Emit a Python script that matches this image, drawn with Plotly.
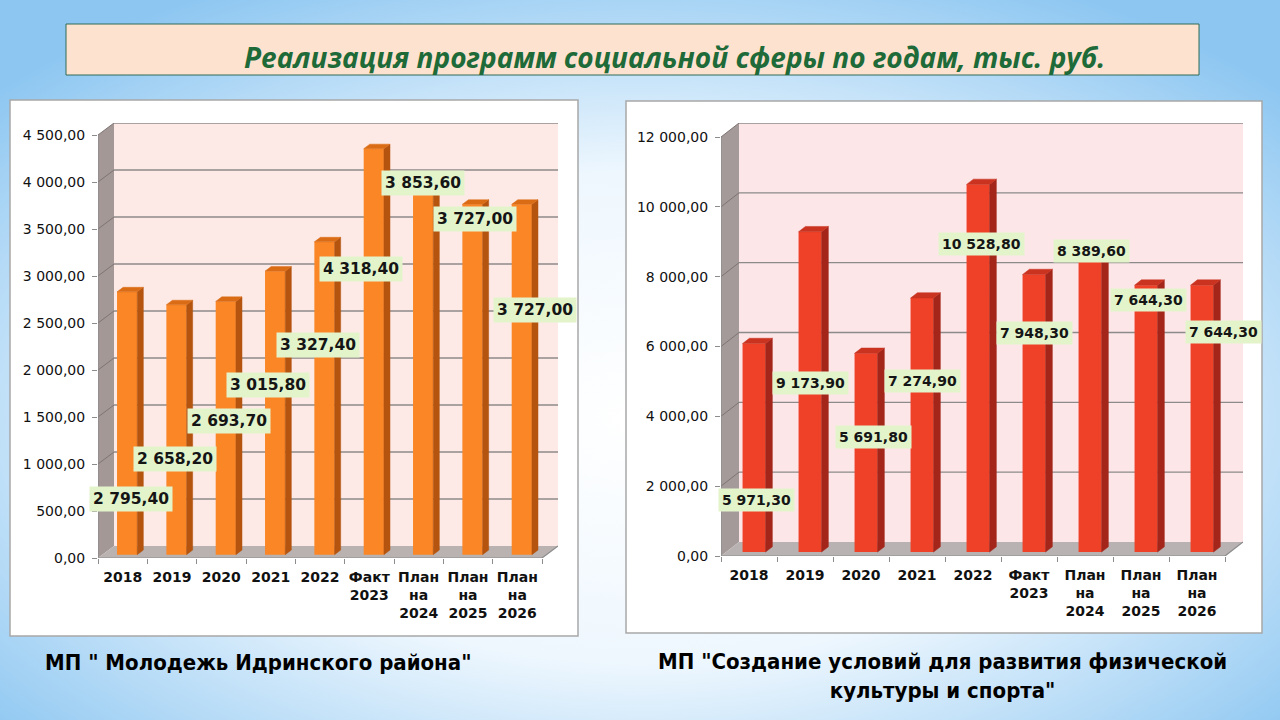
import base64
import plotly.graph_objects as go

# ---------------- data ----------------
CATEGORIES = ["2018", "2019", "2020", "2021", "2022", "Факт<br>2023",
              "План<br>на<br>2024", "План<br>на<br>2025", "План<br>на<br>2026"]
YOUTH_VALUES = [2795.40, 2658.20, 2693.70, 3015.80, 3327.40, 4318.40, 3853.60, 3727.00, 3727.00]
SPORT_VALUES = [5971.30, 9173.90, 5691.80, 7274.90, 10528.80, 7948.30, 8389.60, 7644.30, 7644.30]
YOUTH_TICKS = [0, 500, 1000, 1500, 2000, 2500, 3000, 3500, 4000, 4500]
SPORT_TICKS = [0, 2000, 4000, 6000, 8000, 10000, 12000]

TITLE = "Реализация программ социальной сферы по годам, тыс. руб."
LEFT_CAPTION = 'МП " Молодежь Идринского района"'
RIGHT_CAPTION = 'МП "Создание условий для развития физической<br>культуры и спорта"'

# ---------------- layout (positions of the data-label boxes, in axis units) ----------------
YOUTH_LABEL_X = [0.17, 1.06, 2.16, 2.95, 3.96, 4.83, 6.09, 7.14, 8.36]
YOUTH_LABEL_Y = [628, 1053, 1457, 1840, 2266, 3074, 3989, 3606, 2638]
SPORT_LABEL_X = [0.14, 1.09, 2.23, 3.09, 4.16, 5.09, 6.11, 7.14, 8.48]
SPORT_LABEL_Y = [1604, 4954, 3408, 5011, 8935, 6386, 8734, 7331, 6415]

W_PX, H_PX = 1280, 720


def fmt(v):
    return f"{v:,.2f}".replace(",", " ").replace(".", ",")


def px_x(p):
    return p / W_PX


def px_y(p):
    return 1 - p / H_PX


fig = go.Figure()
shapes = []
annotations = []

charts = [
    dict(xa="x", ya="y", xkey="xaxis", ykey="yaxis", values=YOUTH_VALUES, ticks=YOUTH_TICKS,
         lx=YOUTH_LABEL_X, ly=YOUTH_LABEL_Y, label_size=15.5,
         left=98, right=558, top=123, bottom=558, dpx=16, dpy=12,
         wall="#FDEAE6", side="#A39895", floor="#B9B2B0",
         front="#FA8626", bside="#B4540F", btop="#DB6C16"),
    dict(xa="x2", ya="y2", xkey="xaxis2", ykey="yaxis2", values=SPORT_VALUES, ticks=SPORT_TICKS,
         lx=SPORT_LABEL_X, ly=SPORT_LABEL_Y, label_size=14,
         left=721, right=1243, top=123, bottom=556, dpx=18, dpy=14,
         wall="#FCE6E8", side="#A49A9A", floor="#B9B2B2",
         front="#EF4127", bside="#A4261A", btop="#C9331F"),
]

F0, F1 = 0.28, 0.66   # depth fractions of bar front / back
BW = 0.41             # bar width in category units
n = len(CATEGORIES)

for c in charts:
    xa, ya = c["xa"], c["ya"]
    ymax = c["ticks"][-1]
    cat_w = (c["right"] - c["left"] - c["dpx"]) / n
    DX = c["dpx"] / cat_w
    scale = (c["bottom"] - c["top"] - c["dpy"]) / ymax
    DY = c["dpy"] / scale
    x_lo, x_hi = -0.5, n - 0.5

    # walls and floor
    shapes.append(dict(type="rect", xref=xa, yref=ya, x0=x_lo + DX, x1=x_hi + DX, y0=DY, y1=ymax + DY,
                       fillcolor=c["wall"], line=dict(width=0), layer="below"))
    shapes.append(dict(type="path", xref=xa, yref=ya,
                       path=f"M {x_lo},0 L {x_lo+DX},{DY} L {x_lo+DX},{ymax+DY} L {x_lo},{ymax} Z",
                       fillcolor=c["side"], line=dict(width=0), layer="below"))
    shapes.append(dict(type="path", xref=xa, yref=ya,
                       path=f"M {x_lo},0 L {x_hi},0 L {x_hi+DX},{DY} L {x_lo+DX},{DY} Z",
                       fillcolor=c["floor"], line=dict(width=0), layer="below"))
    for t in c["ticks"][1:]:
        shapes.append(dict(type="line", xref=xa, yref=ya, x0=x_lo + DX, x1=x_hi + DX, y0=t + DY, y1=t + DY,
                           line=dict(color="#8C8A8A", width=1.3), layer="below"))
        shapes.append(dict(type="line", xref=xa, yref=ya, x0=x_lo, x1=x_lo + DX, y0=t, y1=t + DY,
                           line=dict(color="#7E7472", width=1), layer="below"))
    # axis lines
    shapes.append(dict(type="line", xref=xa, yref=ya, x0=x_lo, x1=x_hi, y0=0, y1=0,
                       line=dict(color="#8C8C8C", width=1.2), layer="below"))
    shapes.append(dict(type="line", xref=xa, yref=ya, x0=x_lo, x1=x_lo, y0=0, y1=ymax,
                       line=dict(color="#8C8C8C", width=1.2), layer="below"))
    shapes.append(dict(type="line", xref=xa, yref=ya, x0=x_hi, x1=x_hi + DX, y0=0, y1=DY,
                       line=dict(color="#8C8C8C", width=1.2), layer="below"))

    # bars: front faces
    fig.add_trace(go.Bar(x=[i + F0 * DX for i in range(n)], y=c["values"], base=F0 * DY, width=BW,
                         marker=dict(color=c["front"], line=dict(width=0)),
                         xaxis=xa, yaxis=ya, showlegend=False, hoverinfo="skip"))
    # side and top faces
    sx, sy, tx, ty = [], [], [], []
    ddx = (F1 - F0) * DX
    for i, v in enumerate(c["values"]):
        xl = i - BW / 2 + F0 * DX
        xr = i + BW / 2 + F0 * DX
        sx += [xr, xr + ddx, xr + ddx, xr, xr, None]
        sy += [F0 * DY, F1 * DY, v + F1 * DY, v + F0 * DY, F0 * DY, None]
        tx += [xl, xr, xr + ddx, xl + ddx, xl, None]
        ty += [v + F0 * DY, v + F0 * DY, v + F1 * DY, v + F1 * DY, v + F0 * DY, None]
    fig.add_trace(go.Scatter(x=sx, y=sy, fill="toself", fillcolor=c["bside"], mode="lines",
                             line=dict(width=0.5, color=c["bside"]), xaxis=xa, yaxis=ya,
                             showlegend=False, hoverinfo="skip"))
    fig.add_trace(go.Scatter(x=tx, y=ty, fill="toself", fillcolor=c["btop"], mode="lines",
                             line=dict(width=0.5, color=c["btop"]), xaxis=xa, yaxis=ya,
                             showlegend=False, hoverinfo="skip"))

    # data labels
    for i, v in enumerate(c["values"]):
        annotations.append(dict(xref=xa, yref=ya, x=c["lx"][i], y=c["ly"][i], text=fmt(v),
                                xanchor="center", yanchor="middle",
                                showarrow=False, bgcolor="#E3F4CB", borderpad=3,
                                font=dict(family="DejaVu Sans", size=c["label_size"], color="#151515",
                                          weight="bold")))

    fig.update_layout(**{
        c["xkey"]: dict(domain=[px_x(c["left"]), px_x(c["right"])], range=[x_lo, x_hi + DX],
                        tickmode="array", tickvals=list(range(n)), ticktext=CATEGORIES,
                        tickfont=dict(family="DejaVu Sans", size=14, color="#111111", weight="bold"),
                        ticks="", showgrid=False, zeroline=False, showline=False,
                        ticklabelstandoff=9, anchor=ya, fixedrange=True, automargin=False,
                        minor=dict(tickmode="array", tickvals=[x_lo + k for k in range(n + 1)],
                                   ticks="outside", ticklen=5, tickcolor="#8C8C8C", showgrid=False)),
        c["ykey"]: dict(domain=[px_y(c["bottom"]), px_y(c["top"])], range=[0, ymax + DY],
                        tickmode="array", tickvals=c["ticks"], ticktext=[fmt(t) for t in c["ticks"]],
                        tickfont=dict(family="DejaVu Sans", size=14, color="#111111"),
                        ticks="outside", ticklen=5, tickcolor="#8C8C8C",
                        showgrid=False, zeroline=False, showline=False,
                        ticklabelstandoff=4, anchor=xa, fixedrange=True, automargin=False),
    })

# panels and title box (paper coordinates)
panel_shapes = [
    dict(type="rect", xref="paper", yref="paper", x0=px_x(10), x1=px_x(578), y0=px_y(636), y1=px_y(100),
         fillcolor="white", line=dict(color="#A8A8A8", width=1.5), layer="below"),
    dict(type="rect", xref="paper", yref="paper", x0=px_x(626), x1=px_x(1262), y0=px_y(633), y1=px_y(101),
         fillcolor="white", line=dict(color="#A8A8A8", width=1.5), layer="below"),
    dict(type="rect", xref="paper", yref="paper", x0=px_x(66), x1=px_x(1199), y0=px_y(75), y1=px_y(24),
         fillcolor="#FDE3CF", line=dict(color="#2E6B57", width=1), layer="below"),
]

cap_font = dict(family="Liberation Sans Narrow, Arial Narrow, DejaVu Sans Condensed", size=22,
                color="#000000", weight="bold")
annotations += [
    dict(xref="paper", yref="paper", x=px_x(674), y=px_y(57), text=TITLE, showarrow=False,
         xanchor="center", yanchor="middle",
         font=dict(family="Open Sans, Lato, sans-serif", size=28, color="#1E6A38", weight="bold", style="italic")),
    dict(xref="paper", yref="paper", x=px_x(258), y=px_y(662), text=LEFT_CAPTION, showarrow=False,
         xanchor="center", yanchor="middle", font=cap_font),
    dict(xref="paper", yref="paper", x=px_x(942), y=px_y(676), text=RIGHT_CAPTION, showarrow=False,
         xanchor="center", yanchor="middle", font=cap_font),
]

svg = ('<svg xmlns="http://www.w3.org/2000/svg" width="1280" height="720" viewBox="0 0 1280 720" '
       'preserveAspectRatio="none"><defs><radialGradient id="g" cx="50%" cy="58%" r="68%">'
       '<stop offset="0%" stop-color="#ffffff"/><stop offset="50%" stop-color="#eef7fe"/>'
       '<stop offset="100%" stop-color="#8cc6f1"/></radialGradient></defs>'
       '<rect width="1280" height="720" fill="url(#g)"/></svg>')
bg = "data:image/svg+xml;base64," + base64.b64encode(svg.encode("utf-8")).decode("ascii")

fig.update_layout(
    width=W_PX, height=H_PX, margin=dict(l=0, r=0, t=0, b=0, pad=0, autoexpand=False), autosize=False,
    paper_bgcolor="#CFE6F8", plot_bgcolor="rgba(0,0,0,0)",
    shapes=panel_shapes + shapes, annotations=annotations,
    images=[dict(source=bg, xref="paper", yref="paper", x=0, y=1, sizex=1, sizey=1,
                 xanchor="left", yanchor="top", sizing="stretch", layer="below")],
    barmode="overlay", showlegend=False,
)

post = (
    "document.documentElement.style.margin='0';document.body.style.margin='0';"
    "document.body.style.overflow='hidden';document.body.style.background='#CFE6F8';"
    "var gd=document.getElementById('{plot_id}');gd.style.width='1280px';gd.style.height='720px';"
    "Plotly.relayout(gd,{width:1280,height:720});"
)
fig.write_html("out.html", config={"displayModeBar": False, "responsive": False}, post_script=post)
